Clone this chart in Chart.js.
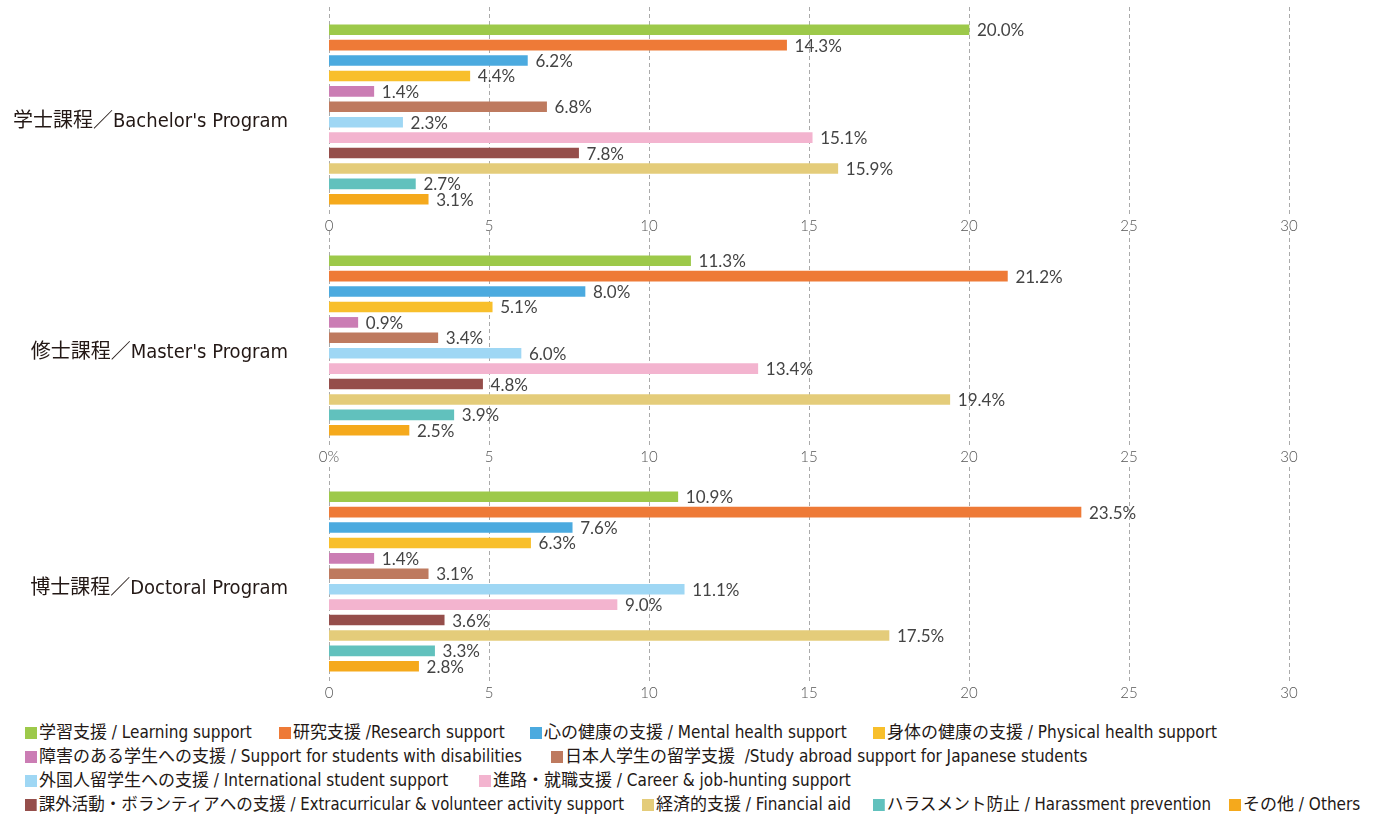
<!DOCTYPE html>
<html>
<head>
<meta charset="utf-8">
<script src="https://cdn.jsdelivr.net/npm/chart.js@4"></script>
<style>
  body { margin: 0; background: #fff; }
  #wrap { position: relative; width: 1378px; height: 816px; overflow: hidden; }
  #wrap canvas { position: absolute; left: 0; }
  .leg-item { position: absolute; white-space: pre; font-family: "Liberation Sans Narrow", "DejaVu Sans Condensed", "Noto Sans CJK JP", sans-serif; font-size: 17px; color: #231815; line-height: 20px; transform-origin: 0 50%; }
  .leg-item i { display: inline-block; width: 12px; height: 12px; margin-right: 2px; vertical-align: -1px; }
</style>
</head>
<body>
<div id="wrap">
  <canvas id="c0" width="1378" height="248" style="top:0"></canvas>
  <canvas id="c1" width="1378" height="248" style="top:231px"></canvas>
  <canvas id="c2" width="1378" height="248" style="top:467px"></canvas>
</div>
<script>
// --- dados ---
const categories = [
  '学習支援 / Learning support',
  '研究支援 /Research support',
  '心の健康の支援 / Mental health support',
  '身体の健康の支援 / Physical health support',
  '障害のある学生への支援 / Support for students with disabilities',
  '日本人学生の留学支援  /Study abroad support for Japanese students',
  '外国人留学生への支援 / International student support',
  '進路・就職支援 / Career & job-hunting support',
  '課外活動・ボランティアへの支援 / Extracurricular & volunteer activity support',
  '経済的支援 / Financial aid',
  'ハラスメント防止 / Harassment prevention',
  'その他 / Others'
];
const programs = ['学士課程／Bachelor\'s Program', '修士課程／Master\'s Program', '博士課程／Doctoral Program'];
const bachelorValues = [20.0, 14.3, 6.2, 4.4, 1.4, 6.8, 2.3, 15.1, 7.8, 15.9, 2.7, 3.1];
const masterValues   = [11.3, 21.2, 8.0, 5.1, 0.9, 3.4, 6.0, 13.4, 4.8, 19.4, 3.9, 2.5];
const doctoralValues = [10.9, 23.5, 7.6, 6.3, 1.4, 3.1, 11.1, 9.0, 3.6, 17.5, 3.3, 2.8];
const xTicks = [0, 5, 10, 15, 20, 25, 30];
const zeroTickLabels = ['0', '0%', '0'];

const colors = ['#9dc94a', '#ee7a37', '#4baadf', '#f8bf2b', '#cb7db4', '#be7a5f',
                '#9fd7f4', '#f3b4cf', '#954e4b', '#e4cc7a', '#61c1bd', '#f5a91c'];

// legend layout: [row top, left] per item
const legendPos = [
  [722, 25], [722, 279], [722, 530], [722, 873],
  [746, 25], [746, 551],
  [770, 25], [770, 479],
  [794, 25], [794, 642], [794, 873], [794, 1229]
];

const gridPlugin = {
  id: 'dashGrid',
  beforeDatasetsDraw(chart, args, opts) {
    const ctx = chart.ctx, x = chart.scales.x, area = chart.chartArea;
    ctx.save();
    ctx.strokeStyle = '#aaaaaa';
    ctx.lineWidth = 1;
    ctx.setLineDash([4, 3]);
    xTicks.forEach(v => {
      const px = Math.round(x.getPixelForValue(v)) + 0.5;
      ctx.beginPath();
      ctx.moveTo(px, opts.top);
      ctx.lineTo(px, area.bottom + 8);
      ctx.stroke();
    });
    ctx.restore();
  }
};

const labelPlugin = {
  id: 'valueLabels',
  afterDatasetsDraw(chart, args, opts) {
    const ctx = chart.ctx, area = chart.chartArea;
    const meta = chart.getDatasetMeta(0);
    const data = chart.data.datasets[0].data;
    ctx.save();
    ctx.font = '17px Lato, "Noto Sans", sans-serif';
    ctx.fillStyle = '#444';
    ctx.textBaseline = 'middle';
    ctx.textAlign = 'left';
    meta.data.forEach((bar, i) => {
      ctx.fillText(data[i].toFixed(1) + '%', bar.x + 8, bar.y + 1);
    });
    // group label
    ctx.font = '20px "Liberation Sans Narrow", "DejaVu Sans Condensed", "Noto Sans CJK JP", sans-serif';
    ctx.fillStyle = '#231815';
    ctx.textAlign = 'right';
    ctx.fillText(opts.title, 288, (area.top + area.bottom) / 2 + 7);
    ctx.restore();
  }
};

function makeChart(id, values, idx) {
  const ctx = document.getElementById(id).getContext('2d');
  return new Chart(ctx, {
    type: 'bar',
    data: {
      labels: categories,
      datasets: [{
        data: values,
        backgroundColor: colors,
        barThickness: 10,
        borderWidth: 0
      }]
    },
    options: {
      indexAxis: 'y',
      responsive: false,
      animation: false,
      devicePixelRatio: 1,
      layout: { padding: { left: 329, right: 89, top: 22, bottom: 3 } },
      scales: {
        x: {
          min: 0, max: 30,
          border: { display: false },
          grid: { display: false, drawTicks: false },
          afterBuildTicks(scale) { scale.ticks = xTicks.map(v => ({ value: v })); },
          ticks: {
            padding: 10,
            color: '#555',
            font: { size: 15, weight: '300', family: 'Lato, "Noto Sans", sans-serif' },
            callback: v => v === 0 ? zeroTickLabels[idx] : String(v)
          }
        },
        y: { display: false }
      },
      plugins: {
        legend: { display: false },
        tooltip: { enabled: false },
        dashGrid: { top: idx === 0 ? 7 : 0 },
        valueLabels: { title: programs[idx] }
      }
    },
    plugins: [gridPlugin, labelPlugin]
  });
}

makeChart('c0', bachelorValues, 0);
makeChart('c1', masterValues, 1);
makeChart('c2', doctoralValues, 2);

// legenda
const wrap = document.getElementById('wrap');
const items = categories.map((name, i) => {
  const div = document.createElement('div');
  div.className = 'leg-item';
  div.style.top = legendPos[i][0] + 'px';
  div.style.left = legendPos[i][1] + 'px';
  div.innerHTML = `<i style="background:${colors[i]}"></i>`;
  div.appendChild(document.createTextNode(name));
  wrap.appendChild(div);
  return div;
});
// squeeze an item if it runs into the next one on its row
items.forEach((div, i) => {
  const next = legendPos[i + 1];
  if (!next || next[0] !== legendPos[i][0]) return;
  const room = next[1] - legendPos[i][1] - 18;
  const w = div.getBoundingClientRect().width;
  if (w > room) div.style.transform = `scaleX(${room / w})`;
});
</script>
</body>
</html>
